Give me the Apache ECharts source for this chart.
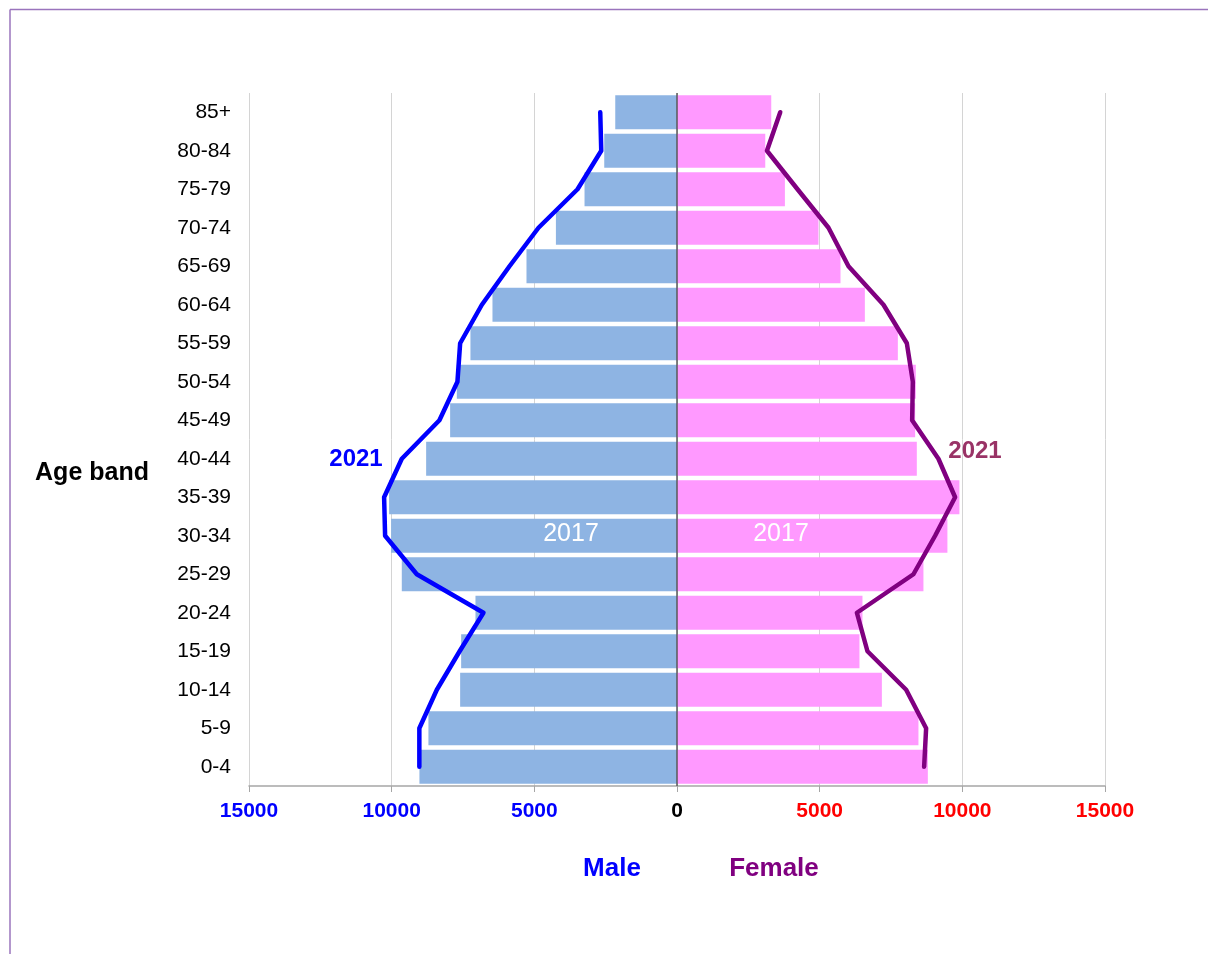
<!DOCTYPE html>
<html>
<head>
<meta charset="utf-8">
<title>Population pyramid 2017 vs 2021</title>
<script src="https://cdn.jsdelivr.net/npm/echarts@6/dist/echarts.min.js"></script>
<style>
  html, body { margin: 0; padding: 0; background: #ffffff; }
  #chart { width: 1208px; height: 954px; }
</style>
</head>
<body>
<div id="chart"></div>
<script>
// Age bands, bottom to top
const ageBands = ['0-4', '5-9', '10-14', '15-19', '20-24', '25-29', '30-34', '35-39', '40-44',
  '45-49', '50-54', '55-59', '60-64', '65-69', '70-74', '75-79', '80-84', '85+'];

// 2017 population (bars)
const male2017 = [9027, 8712, 7600, 7565, 7063, 9645, 10020, 10090, 8792,
  7951, 7716, 7239, 6467, 5275, 4244, 3241, 2550, 2164];
const female2017 = [8791, 8462, 7180, 6395, 6500, 8637, 9477, 9897, 8405,
  8346, 8370, 7740, 6584, 5730, 4959, 3782, 3093, 3303];

// 2021 population (lines)
const male2021 = [9030, 9030, 8417, 7618, 6783, 9119, 10230, 10265, 9645,
  8326, 7695, 7600, 6839, 5871, 4854, 3486, 2655, 2690];
const female2021 = [8661, 8731, 8031, 6675, 6304, 8286, 9046, 9747, 9162,
  8241, 8265, 8055, 7236, 6010, 5309, 4224, 3152, 3618];

// Value axis ticks
const axisMax = 15000;
const axisStep = 5000;

const FONT = '"Liberation Sans", Arial, sans-serif';
const neg = arr => arr.map(v => -v);

const chart = echarts.init(document.getElementById('chart'), null, { renderer: 'canvas' });

chart.setOption({
  animation: false,
  backgroundColor: '#ffffff',
  grid: { left: 249, right: 103, top: 93, bottom: 168, containLabel: false },
  xAxis: {
    type: 'value',
    min: -axisMax,
    max: axisMax,
    interval: axisStep,
    axisLine: { show: true, onZero: false, lineStyle: { color: '#a6a6a6', width: 1.5 } },
    axisTick: { show: true, length: 6, lineStyle: { color: '#a6a6a6', width: 1 } },
    splitLine: { show: true, lineStyle: { color: '#d4d4d4', width: 1 } },
    axisLabel: {
      margin: 15,
      formatter: v => v < 0 ? '{m|' + Math.abs(v) + '}' : (v > 0 ? '{f|' + v + '}' : '{z|0}'),
      rich: {
        m: { color: '#0000ff', fontWeight: 'bold', fontSize: 21, fontFamily: FONT },
        f: { color: '#ff0000', fontWeight: 'bold', fontSize: 21, fontFamily: FONT },
        z: { color: '#000000', fontWeight: 'bold', fontSize: 21, fontFamily: FONT }
      }
    }
  },
  yAxis: {
    type: 'category',
    data: ageBands,
    axisLine: { show: false, onZero: false },
    axisTick: { show: false },
    splitLine: { show: false },
    axisLabel: { margin: 18, color: '#000000', fontSize: 21, fontFamily: FONT }
  },
  series: [
    {
      name: 'Male 2017',
      type: 'bar',
      data: neg(male2017),
      barGap: '-100%',
      barCategoryGap: '12%',
      itemStyle: { color: '#8eb4e3' },
      z: 2,
      markLine: {
        silent: true,
        symbol: 'none',
        label: { show: false },
        lineStyle: { color: '#595959', width: 1.5, type: 'solid' },
        data: [{ xAxis: 0 }],
        z: 5
      }
    },
    {
      name: 'Female 2017',
      type: 'bar',
      data: female2017,
      barGap: '-100%',
      barCategoryGap: '12%',
      itemStyle: { color: '#ff99ff' },
      z: 2
    },
    {
      name: 'Male 2021',
      type: 'line',
      data: neg(male2021),
      symbol: 'none',
      lineStyle: { color: '#0000ff', width: 4.5, cap: 'round', join: 'round' },
      z: 6
    },
    {
      name: 'Female 2021',
      type: 'line',
      data: female2021,
      symbol: 'none',
      lineStyle: { color: '#800080', width: 4.5, cap: 'round', join: 'round' },
      z: 6
    }
  ],
  graphic: [
    // frame edges
    { type: 'line', shape: { x1: 10, y1: 9.5, x2: 1208, y2: 9.5 }, style: { stroke: '#9a74bd', lineWidth: 1.5 }, silent: true },
    { type: 'line', shape: { x1: 10, y1: 9.5, x2: 10, y2: 954 }, style: { stroke: '#9a74bd', lineWidth: 1.5 }, silent: true },
    { type: 'text', x: 92, y: 473, style: { text: 'Age band', font: 'bold 25px ' + FONT, fill: '#000000', textAlign: 'center', textVerticalAlign: 'middle' } },
    { type: 'text', x: 612, y: 869, style: { text: 'Male', font: 'bold 26px ' + FONT, fill: '#0000ff', textAlign: 'center', textVerticalAlign: 'middle' } },
    { type: 'text', x: 774, y: 869, style: { text: 'Female', font: 'bold 26px ' + FONT, fill: '#800080', textAlign: 'center', textVerticalAlign: 'middle' } },
    { type: 'text', x: 356, y: 459, style: { text: '2021', font: 'bold 24px ' + FONT, fill: '#0000ff', textAlign: 'center', textVerticalAlign: 'middle' }, z: 10 },
    { type: 'text', x: 975, y: 451, style: { text: '2021', font: 'bold 24px ' + FONT, fill: '#993366', textAlign: 'center', textVerticalAlign: 'middle' }, z: 10 },
    { type: 'text', x: 571, y: 534, style: { text: '2017', font: '25px ' + FONT, fill: '#ffffff', textAlign: 'center', textVerticalAlign: 'middle' }, z: 10 },
    { type: 'text', x: 781, y: 534, style: { text: '2017', font: '25px ' + FONT, fill: '#ffffff', textAlign: 'center', textVerticalAlign: 'middle' }, z: 10 }
  ]
});
</script>
</body>
</html>
